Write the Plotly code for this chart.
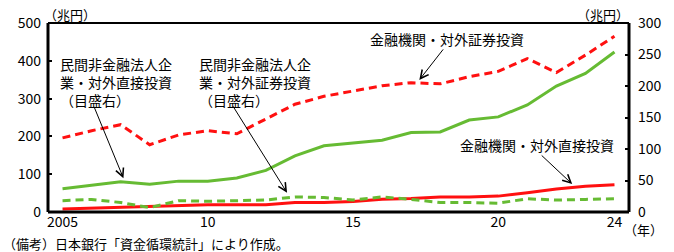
import plotly.graph_objects as go

years = list(range(2005, 2025))

# 金融機関・対外証券投資 (左目盛, 兆円)
fin_portfolio = [196, 215, 231, 178, 204, 215, 207, 247, 285, 306, 319, 334, 342, 339,
                 358, 372, 406, 369, 415, 465]
# 金融機関・対外直接投資 (左目盛, 兆円)
fin_direct = [8, 10, 12, 15, 18, 19, 19, 19, 25, 25, 28, 34, 36, 40, 40, 42, 51, 61, 68, 72]
# 民間非金融法人企業・対外直接投資 (右目盛, 兆円)
corp_direct = [37, 43, 48, 44, 49, 49, 54, 66, 89, 105, 110, 114, 126, 127,
               146, 151, 170, 200, 220, 254]
# 民間非金融法人企業・対外証券投資 (右目盛, 兆円)
corp_portfolio = [18, 20, 15, 7, 18, 17, 18, 19, 24, 23, 19, 24, 20, 15, 15, 14, 21, 19, 20, 21]

x_tickvals = [2005, 2010, 2015, 2020, 2024]
x_ticktext = ["2005", "10", "15", "20", "24"]
left_ticks = [0, 100, 200, 300, 400, 500]
right_ticks = [0, 50, 100, 150, 200, 250, 300]

RED = "#FF1010"
GREEN = "#66BB33"
FONT = "Noto Sans CJK JP"

fig = go.Figure()
fig.add_trace(go.Scatter(x=years, y=fin_portfolio, mode="lines", yaxis="y",
                         line=dict(color=RED, width=3, dash="8px,5px")))
fig.add_trace(go.Scatter(x=years, y=fin_direct, mode="lines", yaxis="y",
                         line=dict(color=RED, width=3)))
fig.add_trace(go.Scatter(x=years, y=corp_direct, mode="lines", yaxis="y2",
                         line=dict(color=GREEN, width=3)))
fig.add_trace(go.Scatter(x=years, y=corp_portfolio, mode="lines", yaxis="y2",
                         line=dict(color=GREEN, width=3, dash="8px,5px")))

L, R, T, B = 48, 33, 16, 40
W, H = 674, 252
PW, PH = W - L - R, H - T - B


def px(x):
    return (x - L) / PW


def py(y):
    return (H - B - y) / PH


annotations = []


def text(x, y, s, size=14, xanchor="left", yanchor="top", align="left"):
    annotations.append(dict(x=px(x), y=py(y), xref="paper", yref="paper", text=s,
                            showarrow=False, xanchor=xanchor, yanchor=yanchor,
                            align=align, font=dict(family=FONT, size=size, color="black")))


def arrow(x0, y0, x1, y1):
    annotations.append(dict(x=px(x1), y=py(y1), xref="paper", yref="paper", text="",
                            showarrow=True, ax=x0 - x1, ay=y0 - y1, arrowhead=5,
                            arrowsize=1.6, arrowwidth=1, arrowcolor="black"))


text(58, 46, "民間非金融法人企<br>業・対外直接投資<br>（目盛右）")
text(200, 46, "民間非金融法人企<br>業・対外証券投資<br>（目盛右）")
text(375, 33, "金融機関・対外証券投資", yanchor="middle")
text(466, 143, "金融機関・対外直接投資", yanchor="middle")
arrow(95, 104, 125, 177)
arrow(237, 104, 292, 192)
arrow(452, 43, 427, 75)
arrow(551, 153, 583, 183)

text(42, 7, "（兆円）", size=13, yanchor="middle")
text(643, 7, "（兆円）", size=13, xanchor="right", yanchor="middle")
text(634, 230, "（年）", size=13, yanchor="middle")
text(0, 245, "（備考）日本銀行「資金循環統計」により作成。", size=13, yanchor="middle")

shapes = [
    dict(type="line", xref="paper", yref="paper", x0=0, x1=0, y0=0, y1=1,
         line=dict(color="black", width=3)),
    dict(type="line", xref="paper", yref="paper", x0=1, x1=1, y0=0, y1=1,
         line=dict(color="black", width=3)),
    dict(type="line", xref="paper", yref="paper", x0=0, x1=1, y0=0, y1=0,
         line=dict(color="black", width=3)),
    dict(type="line", xref="paper", yref="paper", x0=0, x1=1, y0=1, y1=1,
         line=dict(color="black", width=2)),
]

fig.update_layout(
    width=W, height=H,
    margin=dict(l=L, r=R, t=T, b=B, pad=0),
    paper_bgcolor="white", plot_bgcolor="white",
    showlegend=False,
    font=dict(family=FONT, size=14, color="black"),
    xaxis=dict(range=[2004.5, 2024.5], tickvals=x_tickvals, ticktext=x_ticktext,
               showgrid=False, zeroline=False, showline=False, ticks="",
               tickfont=dict(family=FONT, size=14)),
    yaxis=dict(range=[0, 500], tickvals=left_ticks, showgrid=False, zeroline=False,
               showline=False, ticks="inside", ticklen=4, tickwidth=1.5, tickcolor="black",
               ticklabelstandoff=6, tickfont=dict(family=FONT, size=14)),
    yaxis2=dict(range=[0, 300], tickvals=right_ticks, overlaying="y", side="right",
                showgrid=False, zeroline=False, showline=False, ticks="inside",
                ticklen=4, tickwidth=1.5, tickcolor="black", ticklabelstandoff=8,
                tickfont=dict(family=FONT, size=14)),
    annotations=annotations,
    shapes=shapes,
)

fig.write_html("out.html")
